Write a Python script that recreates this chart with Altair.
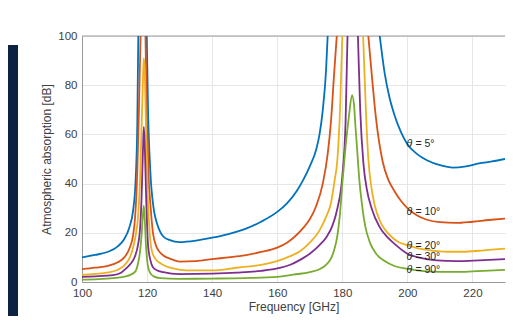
import altair as alt
import pandas as pd

# ---- data ----
series_names = ["5", "10", "20", "30", "90"]
label_rest = ["= 5°", "= 10°", "= 20°", "= 30°", "= 90°"]
label_y = [56, 28.5, 14.5, 10.2, 5.0]
colors = ["#0072BD", "#D95319", "#EDB120", "#7E2F8E", "#77AC30"]

f_5 = [100, 104, 108, 111, 113, 114.5, 115.7, 116.5, 117, 117.3, 118.6, 119.9, 120.3, 121, 122, 123, 124, 125,
       127, 130, 135, 140, 145, 150, 155, 160, 163, 166, 168, 170, 172, 173, 174, 175, 175.5, 183.5, 191.5, 193,
       194.5, 196, 198, 200, 203, 206, 210, 214, 218, 222, 226, 230]
v_5 = [10, 11, 12.3, 14.5, 17.5, 22, 29, 42, 65, 100, 160, 100, 70, 45, 30, 24, 20.5, 18.5,
       17, 16.2, 16.8, 18, 19.5, 21.5, 24.5, 28.5, 32, 37, 41.5, 47, 54, 60, 70, 86, 100, 200, 100, 85,
       75, 68, 61, 56, 52, 49.5, 47.5, 46.5, 47, 48.2, 49, 50]

f_10 = [100, 104, 108, 111, 113, 114.7, 115.7, 116.3, 117, 117.5, 118, 118.8, 119.5, 120, 120.5, 121, 121.8,
        123, 124, 125, 127, 130, 135, 140, 145, 150, 155, 160, 163, 165, 168, 170, 172, 174, 175.5, 176.5,
        177.5, 178.3, 183.3, 188, 189, 190.4, 192.4, 194, 196, 198, 200, 203, 206, 210, 215, 220, 225, 230]
v_10 = [5.2, 5.8, 6.6, 8, 10, 14, 19, 26, 45, 70, 100, 140, 100, 65, 42, 32, 20,
        14, 12, 10.8, 9.5, 8.3, 8.5, 9.3, 10, 10.8, 12.2, 14, 16, 18, 22, 25.5, 31, 40, 52, 65,
        85, 100, 200, 100, 85, 66, 49, 42, 37, 33, 30, 27, 25.3, 24.3, 24, 24.5, 25.2, 25.8]

f_20 = [100, 104, 108, 111, 113, 114.7, 115.7, 116.5, 117.2, 117.8, 118.3, 118.8, 119, 119.3, 119.7, 120.2,
        120.8, 121.4, 122.5, 124, 126, 128, 132, 140, 147.5, 155, 160, 164, 167, 170, 173, 175, 176.5, 177.6,
        178.5, 179.3, 180, 183.2, 186.4, 187.3, 188, 189, 190, 191.5, 193, 195, 197, 200, 203, 207, 212, 217,
        222, 226, 230]
v_20 = [2.9, 3.3, 3.9, 5, 6.8, 10, 14, 19, 26, 40, 62, 85, 91, 85, 60, 35,
        20, 13, 9.5, 7.7, 6.3, 5.5, 4.7, 4.7, 5.8, 7, 8.5, 10.5, 12.5, 16, 21, 26.5, 32, 41,
        50, 70, 100, 200, 100, 68, 50, 38, 31, 25, 21.5, 18.5, 16.5, 15, 13.8, 12.9, 12.3, 12.3,
        12.7, 13.2, 13.6]

f_30 = [100, 104, 109.5, 112, 113.7, 115, 116.3, 117.2, 117.8, 118.3, 118.7, 119, 119.3, 119.7, 120.3, 121,
        121.8, 123, 125, 130, 140, 147.5, 155, 160.7, 164, 167, 170, 173, 175, 177, 178.5, 180, 181, 181.6,
        183.2, 184.8, 185.5, 186.5, 187.5, 189, 191.4, 194, 196.5, 200, 204, 209, 215, 222, 230]
v_30 = [2.1, 2.3, 2.8, 3.8, 5.7, 7.5, 10.5, 15, 21, 34, 52, 63, 55, 35, 15, 9,
        6, 4.8, 4, 3.2, 3.4, 3.8, 4.5, 5.7, 7, 9, 11.5, 15, 18, 23, 30, 43, 65, 100,
        150, 100, 70, 48, 38, 30, 22.5, 18, 15, 11.5, 9.8, 8.8, 8.5, 8.8, 9.3]

f_90 = [100, 105, 109.5, 113, 115, 116.5, 117.2, 117.8, 118.3, 118.7, 119, 119.3, 119.7, 120.2, 120.9, 122,
        124, 130, 140, 150, 160, 165, 170, 173, 175, 176.5, 177.5, 178.5, 179.3, 180, 181, 182, 183, 183.6,
        184, 184.5, 185.2, 186, 187, 188.5, 190.4, 193, 196, 200, 205, 210, 215, 220, 225, 230]
v_90 = [1.0, 1.2, 1.6, 2.2, 3, 4.5, 7.5, 12, 19, 27, 31, 25, 14, 7, 3.8, 2.3,
        1.6, 1.3, 1.4, 1.6, 2.1, 3, 4, 5.2, 7, 9.5, 13, 19, 28, 40, 55, 67, 76, 72,
        64, 55, 42, 32, 23, 16, 11.5, 8.5, 6.5, 5.3, 4.4, 4.1, 4.1, 4.3, 4.6, 4.9]

x_ticks = [100, 120, 140, 160, 180, 200, 220]
y_ticks = [0, 20, 40, 60, 80, 100]

# ---- build tables ----
rows = []
for name, fs, vs in zip(series_names, [f_5, f_10, f_20, f_30, f_90], [v_5, v_10, v_20, v_30, v_90]):
    for f, v in zip(fs, vs):
        rows.append({"freq": f, "value": v, "series": name})
df = pd.DataFrame(rows)

labels = pd.DataFrame({"freq": [200] * 5, "value": label_y, "rest": label_rest, "theta": ["θ"] * 5})

W, H = 423, 246
PAD = {"left": 74, "top": 28, "right": 9, "bottom": 34}

font = "Liberation Sans"
x_scale = alt.Scale(domain=[100, 230], nice=False, zero=False)
y_scale = alt.Scale(domain=[0, 100], nice=False)

lines = alt.Chart(df).mark_line(clip=True, strokeWidth=1.8, interpolate="monotone").encode(
    x=alt.X("freq:Q", scale=x_scale,
            axis=alt.Axis(title="Frequency [GHz]", values=x_ticks, format="d", labelFlush=False,
                          grid=True, ticks=False, labelPadding=5, titlePadding=3)),
    y=alt.Y("value:Q", scale=y_scale,
            axis=alt.Axis(title="Atmospheric absorption [dB]", values=y_ticks, format="d", labelFlush=False,
                          grid=True, ticks=False, labelPadding=5, titlePadding=4)),
    color=alt.Color("series:N", scale=alt.Scale(domain=series_names, range=colors), legend=None),
)

top_border = alt.Chart(pd.DataFrame({"v": [100]})).mark_rule(color="#9a9a9a", strokeWidth=1).encode(
    y=alt.Y("v:Q", scale=y_scale)
)

theta = alt.Chart(labels).mark_text(align="left", baseline="middle", fontSize=10.5, font=font,
                                    fontStyle="italic", color="#262626", dx=-1).encode(
    x=alt.X("freq:Q", scale=x_scale),
    y=alt.Y("value:Q", scale=y_scale),
    text="theta:N",
)
rest = alt.Chart(labels).mark_text(align="left", baseline="middle", fontSize=10.5, font=font,
                                   color="#262626", dx=8).encode(
    x=alt.X("freq:Q", scale=x_scale),
    y=alt.Y("value:Q", scale=y_scale),
    text="rest:N",
)

frame = alt.Chart(pd.DataFrame({"a": [0]})).mark_rect(color="#0e2342", clip=False).encode(
    x=alt.value(-PAD["left"]), x2=alt.value(-PAD["left"] + 10),
    y=alt.value(9), y2=alt.value(H + PAD["bottom"]),
)

chart = alt.layer(frame, top_border, lines, theta, rest).properties(
    width=W, height=H,
    autosize=alt.AutoSizeParams(type="none"),
    padding=PAD,
    background="white",
).configure_view(stroke=None).configure_axis(
    labelFont=font, titleFont=font, labelFontSize=11.5, titleFontSize=12,
    labelColor="#404040", titleColor="#404040", titleFontWeight="normal",
    domainColor="#9a9a9a", gridColor="#e6e6e6", gridWidth=1,
)

chart.save("out.html", embed_options={"renderer": "svg", "actions": False})
